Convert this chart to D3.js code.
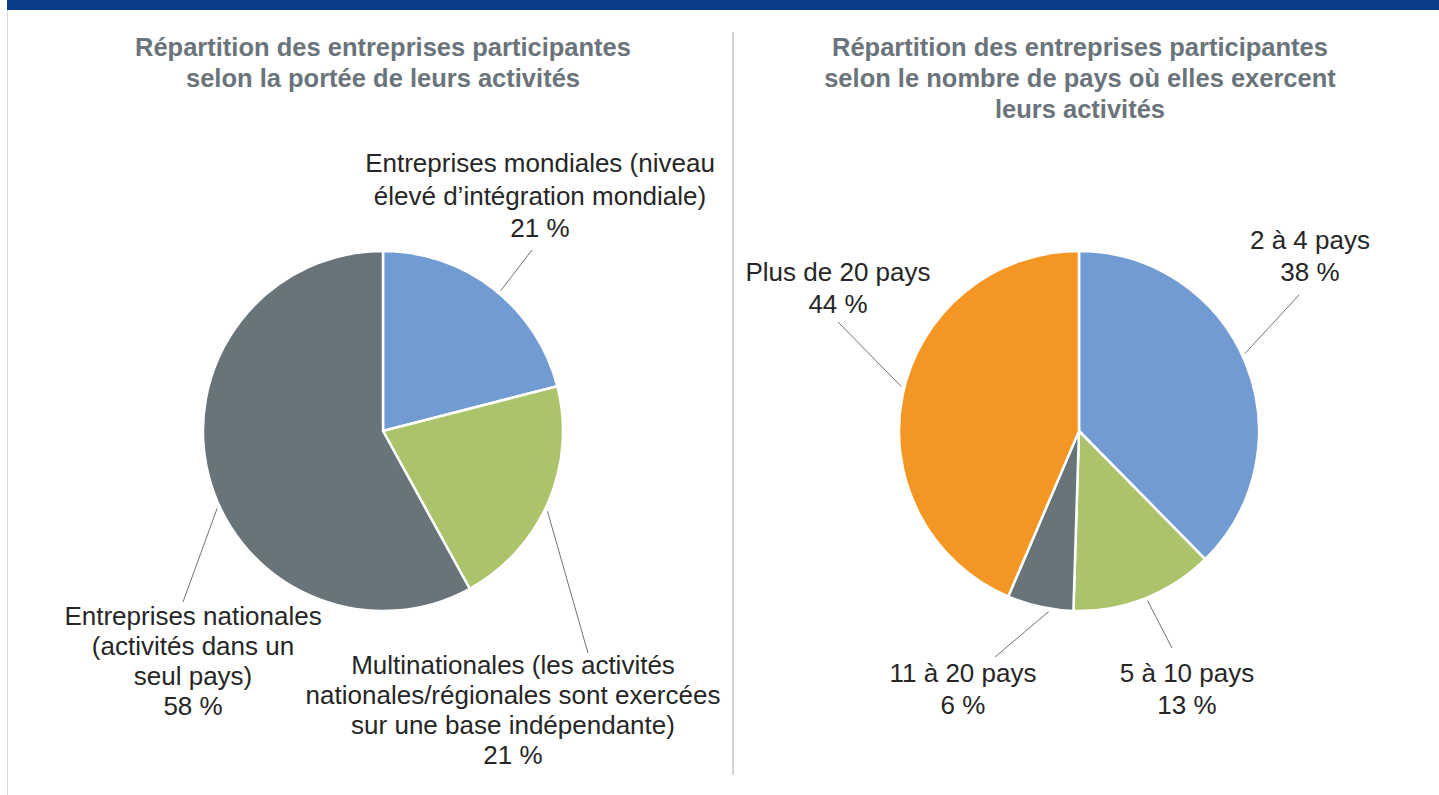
<!DOCTYPE html>
<html lang="fr">
<head>
<meta charset="utf-8">
<script src="https://cdn.jsdelivr.net/npm/d3@7"></script>
<style>
  html, body { margin: 0; padding: 0; background: #fff; }
  svg { display: block; font-family: Arial, "Liberation Sans", sans-serif; }
</style>
</head>
<body>
<svg id="chart" width="1439" height="795"></svg>
<script>
// Data: left pie (scope of activities)
const scopeLabels = [
  ['Entreprises mondiales (niveau', 'élevé d\u2019intégration mondiale)'],
  ['Multinationales (les activités', 'nationales/régionales sont exercées', 'sur une base indépendante)'],
  ['Entreprises nationales', '(activités dans un', 'seul pays)']
];
const scopeValues = [21, 21, 58];
const scopeColors = ['#729bd3', '#abc36a', '#68737a'];

// Data: right pie (number of countries)
const countryLabels = [['2 à 4 pays'], ['5 à 10 pays'], ['11 à 20 pays'], ['Plus de 20 pays']];
const countryValues = [38, 13, 6, 44];
const countryColors = ['#729bd3', '#abc36a', '#68737a', '#f49623'];

const titles = [
  ['Répartition des entreprises participantes', 'selon la portée de leurs activités'],
  ['Répartition des entreprises participantes', 'selon le nombre de pays où elles exercent', 'leurs activités']
];

// Label layout (relative to pie centre): label anchor, line gap, leader angle + end
const scopeLayout = [
  { lx: 157, ly: -268, gap: 32.5, angle: 40, ex: 149, ey: -181 },
  { lx: 130, ly: 234, gap: 30, angle: 116, ex: 205, ey: 222 },
  { lx: -190, ly: 185, gap: 30, angle: 245, ex: -200, ey: 171 }
];
const countryLayout = [
  { lx: 231, ly: -191, gap: 32, angle: 65, ex: 220, ey: -136 },
  { lx: 108, ly: 242, gap: 32, angle: 158, ex: 93, ey: 217 },
  { lx: -116, ly: 242, gap: 32, angle: 189.5, ex: -84, ey: 226 },
  { lx: -241, ly: -159, gap: 32, angle: 284, ex: -241, ey: -109 }
];

const svg = d3.select('#chart');
const radius = 180;

// Top band, frame and divider
svg.append('rect').attr('x', 7).attr('y', 0).attr('width', 1432).attr('height', 10).attr('fill', '#0a3d87');
svg.append('line').attr('x1', 7.5).attr('x2', 7.5).attr('y1', 10).attr('y2', 795)
  .attr('stroke', '#d9d9d9').attr('stroke-width', 1);
svg.append('line').attr('x1', 733).attr('x2', 733).attr('y1', 32).attr('y2', 775)
  .attr('stroke', '#d3d3d3').attr('stroke-width', 2);

function drawTitle(lines, cx) {
  svg.append('text')
    .attr('text-anchor', 'middle')
    .attr('fill', '#6b747b')
    .style('font-size', '25.5px')
    .style('font-weight', 'bold')
    .selectAll('tspan')
    .data(lines)
    .join('tspan')
    .attr('x', cx)
    .attr('y', (d, i) => 56 + i * 31)
    .text(d => d);
}

function drawPie(cx, cy, values, labels, colors, layout) {
  const g = svg.append('g').attr('transform', `translate(${cx},${cy})`);
  const pie = d3.pie().sort(null).value(d => d);
  const arcs = pie(values);
  const arc = d3.arc().innerRadius(0).outerRadius(radius);

  g.selectAll('path.slice')
    .data(arcs)
    .join('path')
    .attr('class', 'slice')
    .attr('d', arc)
    .attr('fill', (d, i) => colors[i])
    .attr('stroke', '#fff')
    .attr('stroke-width', 2.5)
    .attr('stroke-linejoin', 'round');

  // Leader lines
  g.selectAll('line.leader')
    .data(arcs)
    .join('line')
    .attr('class', 'leader')
    .attr('x1', (d, i) => (radius + 3) * Math.sin(layout[i].angle * Math.PI / 180))
    .attr('y1', (d, i) => -(radius + 3) * Math.cos(layout[i].angle * Math.PI / 180))
    .attr('x2', (d, i) => layout[i].ex)
    .attr('y2', (d, i) => layout[i].ey)
    .attr('stroke', '#6b747b')
    .attr('stroke-width', 1);

  // Labels: name lines + percentage
  const labelG = g.selectAll('text.label')
    .data(arcs)
    .join('text')
    .attr('class', 'label')
    .attr('text-anchor', 'middle')
    .attr('fill', '#262626')
    .style('font-size', '26px');

  labelG.each(function (d, i) {
    const lines = labels[i].concat([`${values[i]} %`]);
    d3.select(this).selectAll('tspan')
      .data(lines)
      .join('tspan')
      .attr('x', layout[i].lx)
      .attr('y', (t, j) => layout[i].ly + 9 + j * layout[i].gap)
      .text(t => t);
  });
}

drawTitle(titles[0], 383);
drawTitle(titles[1], 1080);
drawPie(383, 431, scopeValues, scopeLabels, scopeColors, scopeLayout);
drawPie(1079, 431, countryValues, countryLabels, countryColors, countryLayout);
</script>
</body>
</html>
